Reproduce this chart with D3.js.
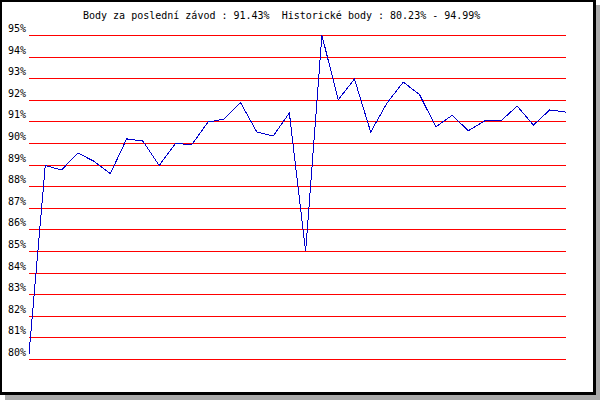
<!DOCTYPE html>
<html lang="cs">
<head>
    <meta charset="UTF-8">
    <title>Body</title>
    <style>
        body { margin: 0; background: #fff; }
        text {
            font-family: "DejaVu Sans Mono", monospace;
            font-size: 10px;
            fill: #000;
        }
        .title { white-space: pre; }
        .grid line {
            stroke: #ff0000;
            stroke-width: 1;
            shape-rendering: crispEdges;
        }
    </style>
</head>
<body>
<svg width="600" height="400"></svg>
<script src="https://d3js.org/d3.v7.min.js"></script>
<script>

var title = "Body za poslední závod : 91.43%  Historické body : 80.23% - 94.99%";

var tickValues = [80, 81, 82, 83, 84, 85, 86, 87, 88, 89, 90, 91, 92, 93, 94, 95];

var points = [
    80.23, 88.96, 88.75, 89.54, 89.15, 88.58, 90.19, 90.09, 88.96, 89.98,
    89.92, 90.97, 91.11, 91.87, 90.51, 90.32, 91.39, 84.98, 94.99, 92.00,
    92.96, 90.51, 91.85, 92.82, 92.24, 90.75, 91.28, 90.57, 91.02, 91.02,
    91.71, 90.83, 91.53, 91.43
];

var svg = d3.select("svg");

// frame with shadow
svg.append("rect").attr("x", 5).attr("y", 5).attr("width", 595).attr("height", 395).attr("fill", "#aaaaaa");
svg.append("rect").attr("x", 0).attr("y", 0).attr("width", 596).attr("height", 395).attr("fill", "#000");
svg.append("rect").attr("x", 2).attr("y", 2).attr("width", 591).attr("height", 390).attr("fill", "#fff");

var x = d3.scalePoint()
    .domain(d3.range(points.length))
    .range([29, 566]);

var y = d3.scaleLinear()
    .domain([80, 95])
    .range([359, 35]);

var grid = svg.append("g").attr("class", "grid");

grid.selectAll("line")
    .data(tickValues)
    .enter().append("line")
    .attr("x1", 29)
    .attr("x2", 566)
    .attr("y1", function(d) { return Math.round(y(d)) + 0.5; })
    .attr("y2", function(d) { return Math.round(y(d)) + 0.5; });

svg.append("g").selectAll("text")
    .data(tickValues)
    .enter().append("text")
    .attr("x", 26)
    .attr("y", function(d) { return Math.round(y(d)) - 3; })
    .attr("text-anchor", "end")
    .text(function(d) { return d + "%"; });

var line = d3.line()
    .x(function(d, i) { return x(i); })
    .y(function(d) { return y(d); });

svg.append("path")
    .datum(points)
    .attr("d", line)
    .attr("fill", "none")
    .attr("stroke", "#0000cc")
    .attr("stroke-width", 1)
    .attr("shape-rendering", "crispEdges");

svg.append("text")
    .attr("class", "title")
    .attr("x", 83)
    .attr("y", 19)
    .text(title);

</script>
</body>
</html>
